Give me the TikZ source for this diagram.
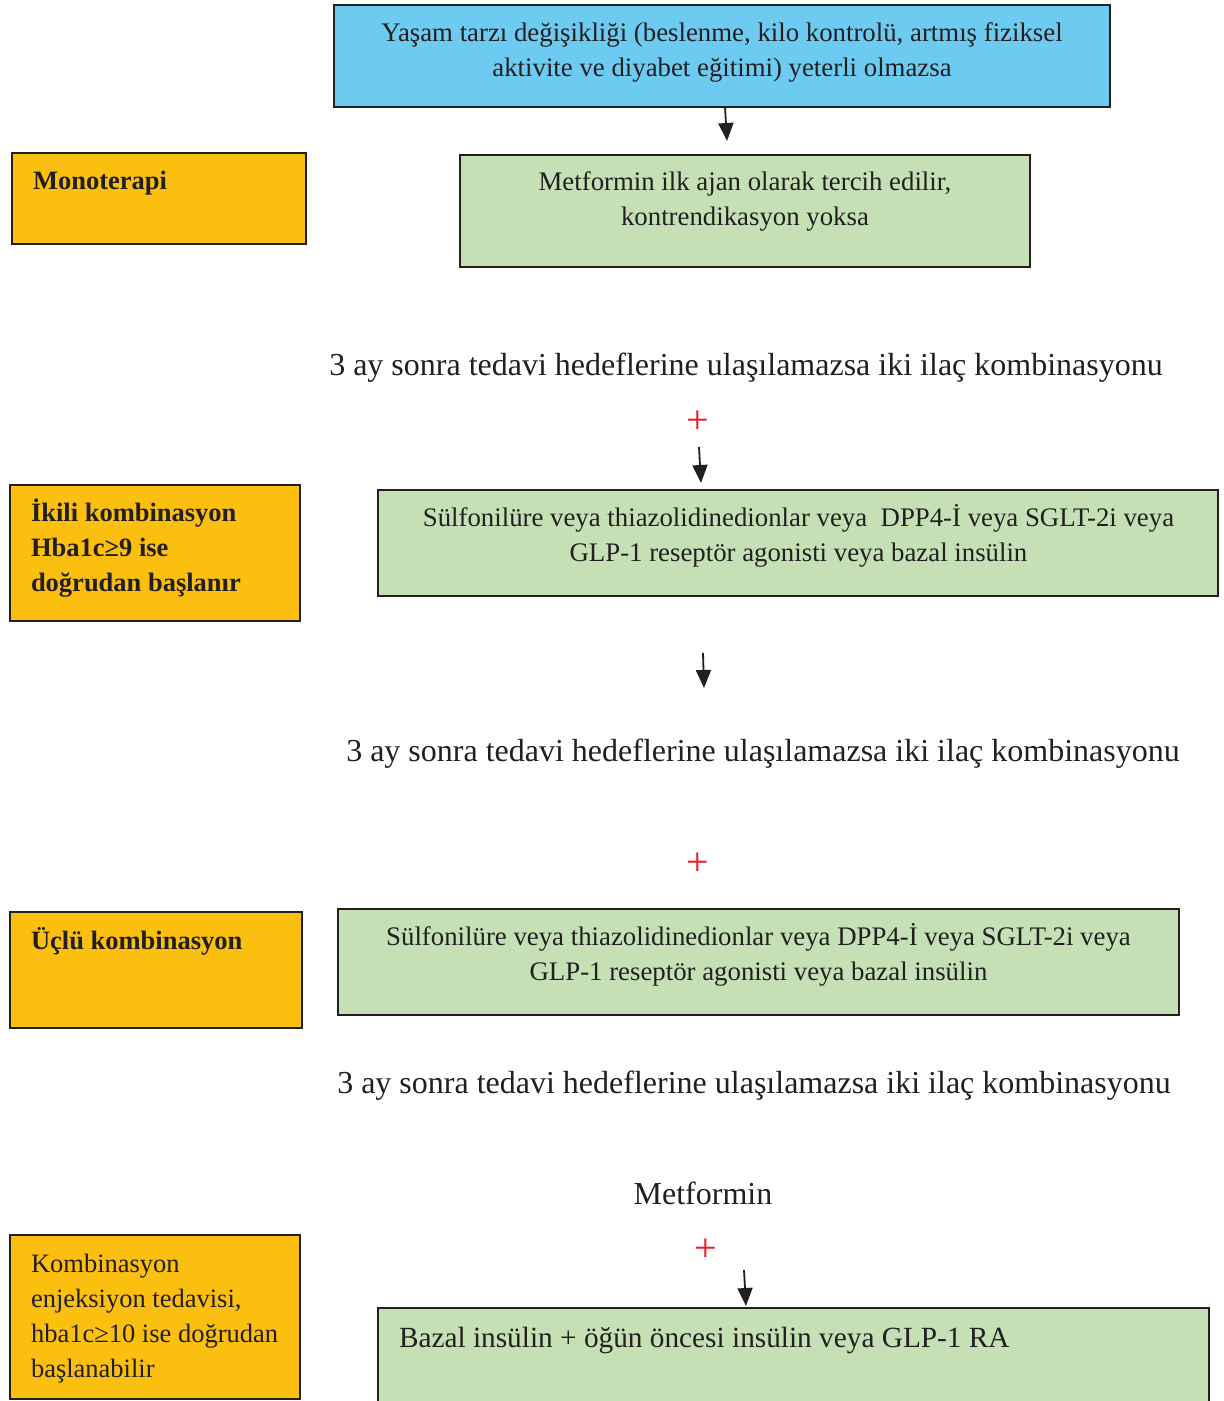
\documentclass[tikz,border=0pt]{standalone}
\usepackage{fontspec}
\setmainfont{Liberation Serif}
\usetikzlibrary{arrows.meta}
\definecolor{boxblue}{HTML}{6DCBF1}
\definecolor{boxgreen}{HTML}{C5E0B4}
\definecolor{boxorange}{HTML}{FBBF10}
\definecolor{txtc}{HTML}{231F20}
\definecolor{plusred}{HTML}{EE1C25}
\tikzset{
  box/.style={draw=txtc, line width=1.8pt, inner sep=0pt, outer sep=0pt, anchor=north west},
  bluebox/.style={box, fill=boxblue},
  greenbox/.style={box, fill=boxgreen},
  orangebox/.style={box, fill=boxorange},
  btxt/.style={inner sep=0pt, outer sep=0pt, text=txtc, font=\fontsize{26.8}{35}\selectfont, align=center, anchor=north},
  ltxt/.style={inner sep=0pt, outer sep=0pt, text=txtc, font=\fontsize{26.5}{35}\selectfont, align=left, anchor=north west},
  lbold/.style={ltxt, font=\fontsize{26.5}{35}\selectfont\bfseries},
  freetxt/.style={inner sep=0pt, outer sep=0pt, text=txtc, font=\fontsize{32}{38}\selectfont, anchor=base},
  plussign/.style={inner sep=0pt, outer sep=0pt, text=plusred, font=\fontsize{40}{44}\selectfont},
  arr/.style={draw=txtc, line width=1.8pt, -{Triangle[width=15pt,length=18pt]}}
}
\begin{document}
\begin{tikzpicture}[x=1pt,y=-1pt]
\fill[white] (0,0) rectangle (1224,1401);
\useasboundingbox (0,0) rectangle (1224,1401);

% boxes
\node[bluebox, minimum width=776pt, minimum height=102pt] (blue) at (334,5) {};
\node[orangebox, minimum width=294pt, minimum height=91pt] (mono) at (12,153) {};
\node[greenbox, minimum width=570pt, minimum height=112pt] (g1) at (460,155) {};
\node[orangebox, minimum width=290pt, minimum height=136pt] (ikili) at (10,485) {};
\node[greenbox, minimum width=840pt, minimum height=106pt] (g2) at (378,490) {};
\node[orangebox, minimum width=292pt, minimum height=116pt] (uclu) at (10,912) {};
\node[greenbox, minimum width=841pt, minimum height=106pt] (g3) at (338,909) {};
\node[orangebox, minimum width=290pt, minimum height=164pt] (komb) at (10,1235) {};
\node[greenbox, minimum width=831pt, minimum height=100pt] (g4) at (378,1308) {};

% box texts
\node[btxt] (tblue) at (722,17) {\strut Yaşam tarzı değişikliği (beslenme, kilo kontrolü, artmış fiziksel\\\strut aktivite ve diyabet eğitimi) yeterli olmazsa};
\node[btxt] (tg1) at (745,165.5) {\strut Metformin ilk ajan olarak tercih edilir,\\\strut kontrendikasyon yoksa};
\node[btxt] (tg2) at (798.5,501.5) {\strut Sülfonilüre veya thiazolidinedionlar veya\ \ DPP4-İ veya SGLT-2i veya\\\strut GLP-1 reseptör agonisti veya bazal insülin};
\node[btxt] (tg3) at (758.5,920.5) {\strut Sülfonilüre veya thiazolidinedionlar veya DPP4-İ veya SGLT-2i veya\\\strut GLP-1 reseptör agonisti veya bazal insülin};
\node[ltxt, anchor=base west, font=\fontsize{29.3}{35}\selectfont] (tg4) at (399,1347) {Bazal insülin + öğün öncesi insülin veya GLP-1 RA};

% left labels
\node[lbold, anchor=base west] (tmono) at (33,189.5) {Monoterapi};
\node[lbold] (tikili) at (31,497) {\strut İkili kombinasyon\\\strut Hba1c≥9 ise\\\strut doğrudan başlanır};
\node[lbold, anchor=base west] (tuclu) at (31,949.5) {Üçlü kombinasyon};
\node[ltxt] (tkomb) at (31,1247.5) {\strut Kombinasyon\\\strut enjeksiyon tedavisi,\\\strut hba1c≥10 ise doğrudan\\\strut başlanabilir};

% free texts
\node[freetxt] (s1) at (746,375) {3 ay sonra tedavi hedeflerine ulaşılamazsa iki ilaç kombinasyonu};
\node[freetxt] (s2) at (763,761) {3 ay sonra tedavi hedeflerine ulaşılamazsa iki ilaç kombinasyonu};
\node[freetxt] (s3) at (754,1093) {3 ay sonra tedavi hedeflerine ulaşılamazsa iki ilaç kombinasyonu};
\node[freetxt] (met) at (703,1204) {Metformin};

% plus signs
\node[plussign] (p1) at (698,422) {+};
\node[plussign] (p2) at (698,864) {+};
\node[plussign] (p3) at (706,1250) {+};

% arrows
\coordinate (a1s) at (725,107);
\coordinate (a1e) at (727,141);
\coordinate (a2s) at (699,447);
\coordinate (a2e) at (701,483);
\coordinate (a3s) at (703,653);
\coordinate (a3e) at (704,688);
\coordinate (a4s) at (744,1270);
\coordinate (a4e) at (746,1306);
\draw[arr] (a1s) -- (a1e);
\draw[arr] (a2s) -- (a2e);
\draw[arr] (a3s) -- (a3e);
\draw[arr] (a4s) -- (a4e);
\end{tikzpicture}
\end{document}
